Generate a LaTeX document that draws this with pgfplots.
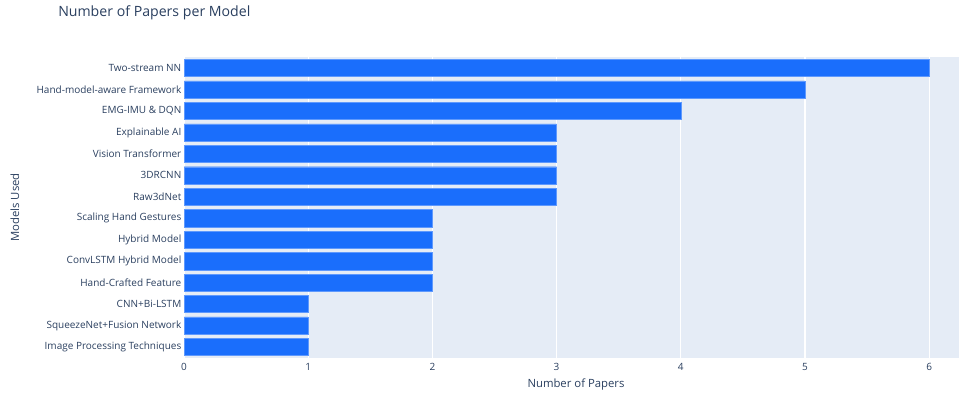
\documentclass[border=0pt]{standalone}
\usepackage{pgfplots}
\pgfplotsset{compat=1.18}
\usepackage{fontspec}
\setmainfont{Open Sans}
\definecolor{barblue}{RGB}{26,110,252}
\definecolor{plotbg}{HTML}{E5ECF6}
\definecolor{txt}{HTML}{2A3F5F}
\begin{document}
\begin{tikzpicture}[x=1pt,y=1pt]
\useasboundingbox (0,0) rectangle (719.25,297);
\begin{axis}[
  at={(138pt,28.7pt)}, anchor=south west,
  scale only axis, width=581.25pt, height=225.3pt,
  xbar, bar width=12.9pt,
  xmin=0, xmax=6.24, ymin=-0.5, ymax=13.5,
  axis background/.style={fill=plotbg},
  axis line style={draw=none},
  major tick length=0pt,
  xtick={0,1,2,3,4,5,6},
  ytick={0,...,13},
  yticklabels={Image Processing Techniques,SqueezeNet+Fusion Network,CNN+Bi-LSTM,Hand-Crafted Feature,ConvLSTM Hybrid Model,Hybrid Model,Scaling Hand Gestures,Raw3dNet,3DRCNN,Vision Transformer,Explainable AI,EMG-IMU \& DQN,Hand-model-aware Framework,Two-stream NN},
  xmajorgrids, grid style={white, line width=0.8pt},
  ticklabel style={font=\fontsize{7.5}{8.5}\selectfont, text=txt},
  yticklabel style={xshift=1.5pt},
  xticklabel style={yshift=-0.5pt},
  /pgf/number format/assume math mode=true,
]
\addplot[fill=barblue, draw=barblue!70!white, line width=0.3pt] coordinates {
(1,0) (1,1) (1,2) (2,3) (2,4) (2,5) (2,6) (3,7) (3,8) (3,9) (3,10) (4,11) (5,12) (6,13)};
\end{axis}
\node[anchor=west, inner sep=0pt, text=txt, font=\fontsize{10.6}{12}\selectfont] at (43.5,287.5) {Number of Papers per Model};
\node[text=txt, font=\fontsize{8.5}{10}\selectfont] at (432,8.5) {Number of Papers};
\node[text=txt, rotate=90, font=\fontsize{8.5}{10}\selectfont] at (11.25,141.5) {Models Used};
\end{tikzpicture}
\end{document}
